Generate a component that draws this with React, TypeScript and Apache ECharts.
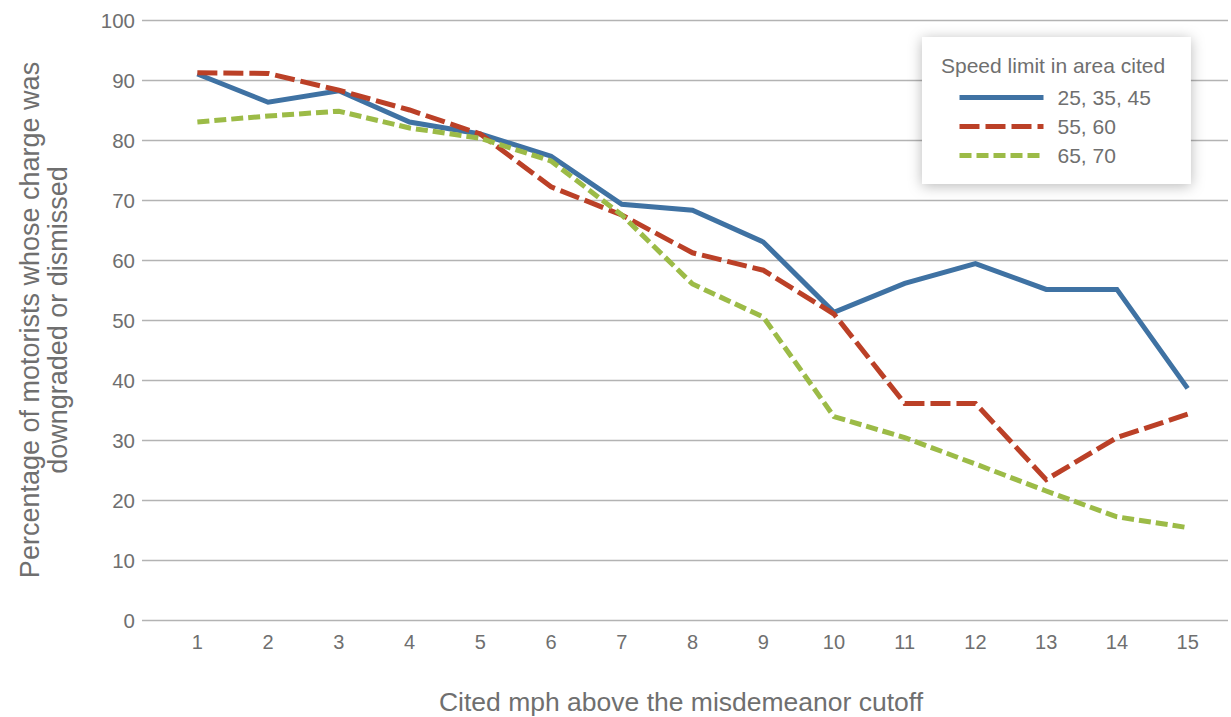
import React, { useEffect, useRef } from "react";
import * as echarts from "echarts";

const categories = ["1", "2", "3", "4", "5", "6", "7", "8", "9", "10", "11", "12", "13", "14", "15"];
const seriesNames = ["25, 35, 45", "55, 60", "65, 70"];
const lowSpeed = [91, 86.3, 88.2, 83, 81, 77.3, 69.3, 68.3, 63, 51.3, 56.1, 59.4, 55.1, 55.1, 38.6];
const midSpeed = [91.2, 91.1, 88.3, 85, 81, 72.2, 67.5, 61.2, 58.3, 51, 36.1, 36.1, 23.4, 30.4, 34.3];
const highSpeed = [83, 84, 84.8, 82, 80.3, 76.5, 67.5, 56, 50.5, 33.9, 30.4, 26, 21.5, 17.2, 15.4];
const legendTitle = "Speed limit in area cited";
const xTitle = "Cited mph above the misdemeanor cutoff";
const yTitle = "Percentage of motorists whose charge was\ndowngraded or dismissed";

const FONT = "'Liberation Sans', Arial, sans-serif";
const TXT = "#6f6f6f";

export default function App() {
  const ref = useRef<HTMLDivElement>(null);
  useEffect(() => {
    const chart = echarts.init(ref.current!, null, { renderer: "svg" });
    const mk = (name: string, data: number[], color: string, type: any) => ({
      name,
      type: "line",
      data,
      xAxisIndex: 0,
      yAxisIndex: 0,
      symbol: "none",
      lineStyle: { color, width: 5, type, join: "miter", cap: "butt" },
      itemStyle: { color },
      z: 3,
    });
    chart.setOption({
      animation: false,
      backgroundColor: "#ffffff",
      textStyle: { fontFamily: FONT },
      grid: [
        { left: 162, width: 1061, top: 20, height: 600 },
        { left: 142, right: 3, top: 20, height: 600 },
      ],
      xAxis: [
        {
          type: "category",
          gridIndex: 0,
          data: categories,
          boundaryGap: true,
          axisLine: { show: false },
          axisTick: { show: false },
          axisLabel: { color: TXT, fontSize: 20, margin: 12, fontFamily: FONT },
          splitLine: { show: false },
        },
        {
          type: "value",
          gridIndex: 1,
          min: 0,
          max: 1,
          show: false,
        },
      ],
      yAxis: [
        {
          type: "value",
          gridIndex: 0,
          min: 0,
          max: 100,
          interval: 10,
          show: false,
          splitLine: { show: false },
        },
        {
          type: "value",
          gridIndex: 1,
          min: 0,
          max: 100,
          interval: 10,
          axisLine: { show: false },
          axisTick: { show: false },
          axisLabel: { color: TXT, fontSize: 20.5, margin: 7, fontFamily: FONT },
          splitLine: { lineStyle: { color: "#b3b3b3", width: 1.3 } },
        },
      ],
      legend: {
        orient: "vertical",
        left: 922,
        top: 37,
        padding: [50, 40, 18, 35],
        itemWidth: 84,
        itemHeight: 21,
        itemGap: 8,
        backgroundColor: "#ffffff",
        shadowBlur: 14,
        shadowColor: "rgba(0,0,0,0.28)",
        shadowOffsetX: 0,
        shadowOffsetY: 2,
        itemStyle: { opacity: 0 },
        lineStyle: { width: 5, type: "inherit" },
        textStyle: { color: TXT, fontSize: 21, fontFamily: FONT, padding: [0, 0, 0, 9] },
        data: seriesNames,
      },
      graphic: [
        {
          type: "text",
          x: 941,
          y: 65,
          z: 100,
          style: { text: legendTitle, fill: TXT, font: `21px ${FONT}`, verticalAlign: "middle" },
        },
        {
          type: "text",
          x: 681,
          y: 702,
          style: { text: xTitle, fill: TXT, font: `26.5px ${FONT}`, align: "center", verticalAlign: "middle" },
        },
        {
          type: "text",
          x: 44,
          y: 320,
          rotation: Math.PI / 2,
          style: {
            text: yTitle,
            fill: TXT,
            font: `27px ${FONT}`,
            align: "center",
            verticalAlign: "middle",
            lineHeight: 28,
          },
        },
      ],
      series: [
        mk(seriesNames[0], lowSpeed, "#3f72a3", "solid"),
        mk(seriesNames[1], midSpeed, "#bb4027", [20, 6]),
        mk(seriesNames[2], highSpeed, "#9cbb47", [12, 5]),
      ],
    });
    return () => chart.dispose();
  }, []);
  return <div ref={ref} style={{ position: "fixed", left: 0, top: 0, width: 1231, height: 717 }} />;
}
